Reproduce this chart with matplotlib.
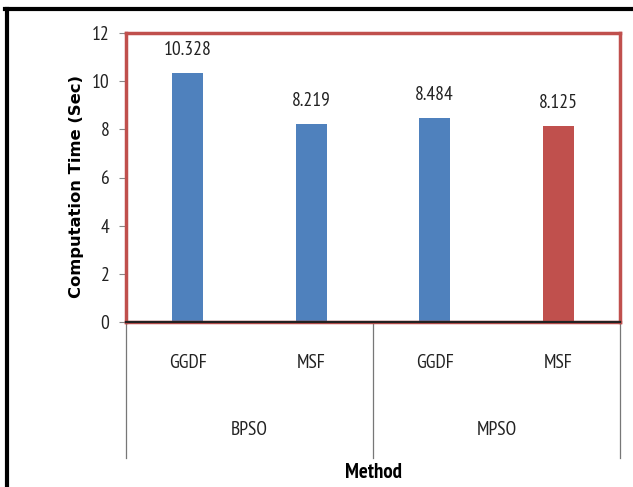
import matplotlib
matplotlib.use("Agg")
import matplotlib.pyplot as plt
from matplotlib.lines import Line2D

# chart values
groups = ["BPSO", "MPSO"]
methods = ["GGDF", "MSF", "GGDF", "MSF"]
times = [10.328, 8.219, 8.484, 8.125]
labels = ["10.328", "8.219", "8.484", "8.125"]
bar_colors = ["#4F81BD", "#4F81BD", "#4F81BD", "#C0504D"]
yticks = [0, 2, 4, 6, 8, 10, 12]

narrow = ["PT Sans Narrow", "DejaVu Sans"]
fs = 14

fig = plt.figure(figsize=(6.33, 4.87), dpi=100)
ax = fig.add_axes([126 / 633, 1 - 322 / 487, (620 - 126) / 633, (322 - 33) / 487])

x = list(range(len(times)))
ax.bar(x, times, width=0.25, color=bar_colors, zorder=2)
for xi, v, lab in zip(x, times, labels):
    ax.text(xi, v + 0.75, lab, ha="center", va="baseline", fontsize=fs, family=narrow, color="#222222")

ax.set_xlim(-0.5, 3.5)
ax.set_ylim(0, 12)
ax.set_yticks(yticks)
ax.set_yticklabels([str(t) for t in yticks], family=narrow, fontsize=fs, color="#222222")
ax.set_xticks([])
ax.tick_params(axis="y", direction="out", length=5, color="#888888", pad=7)

for s in ax.spines.values():
    s.set_color("#C0504D")
    s.set_linewidth(2.5)
ax.axhline(0, color="#222222", lw=1.6, zorder=3, clip_on=False)

# category axis below the plot
drop = -136 / 289
trans = ax.get_xaxis_transform()
for xs in [-0.5, 1.5, 3.5]:
    ax.add_line(Line2D([xs, xs], [0, drop], transform=trans, color="#777777", lw=0.9, clip_on=False))
for xi, m in zip(x, methods):
    ax.text(xi, -41 / 289, m, transform=trans, ha="center", va="center", fontsize=fs, family=narrow, color="#222222")
for gi, g in enumerate(groups):
    ax.text(2 * gi + 0.5, -108 / 289, g, transform=trans, ha="center", va="center", fontsize=fs, family=narrow, color="#222222")

ax.text(0.5, -150 / 289, "Method", transform=ax.transAxes, ha="center", va="center",
        fontsize=15, fontweight="bold", family=narrow)
fig.text(76 / 633, 1 - 187 / 487, "Computation Time (Sec)", rotation=90, ha="center", va="center",
         fontsize=11.8, fontweight="bold", family="DejaVu Sans")

# outer black frame (top and left)
fig.add_artist(Line2D([5 / 633, 1], [1 - 9 / 487, 1 - 9 / 487], transform=fig.transFigure, color="black", lw=3))
fig.add_artist(Line2D([6.5 / 633, 6.5 / 633], [0, 1 - 9 / 487], transform=fig.transFigure, color="black", lw=3))

fig.savefig("out.png", dpi=100)
